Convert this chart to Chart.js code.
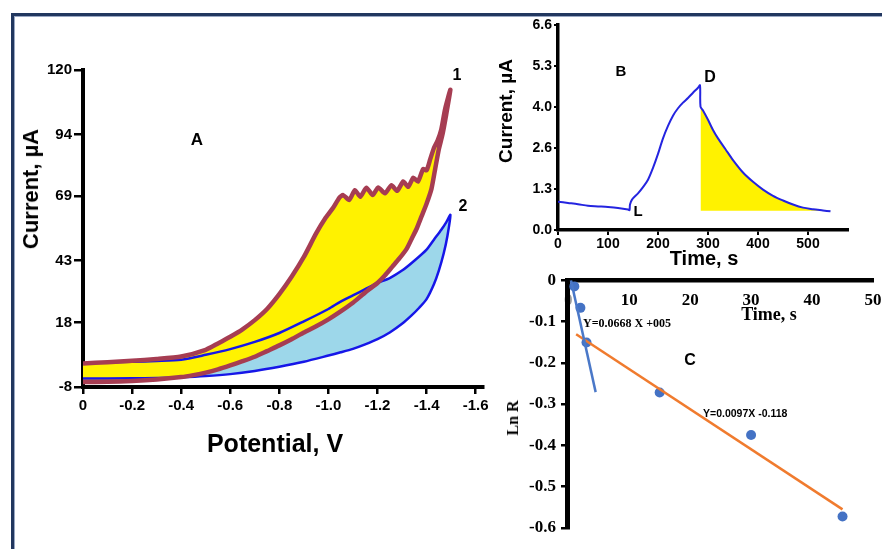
<!DOCTYPE html>
<html><head><meta charset="utf-8">
<script src="https://cdn.jsdelivr.net/npm/chart.js@4.4.0/dist/chart.umd.min.js"></script>
<style>
html,body{margin:0;padding:0;background:#fff;}
body{width:882px;height:549px;position:relative;overflow:hidden;font-family:'Liberation Sans',Arial,sans-serif;}
canvas{position:absolute;}
.lbl{position:absolute;white-space:nowrap;transform:translate(-50%,-50%);font-weight:bold;color:#000;line-height:1;}
.rot{transform:translate(-50%,-50%) rotate(-90deg);}
.left{transform:translate(0,-50%);}
.serif{font-family:'Liberation Serif','Times New Roman',serif;}
.fr{position:absolute;background:#22375f;}
.frl{position:absolute;background:#9aa8c4;}
</style></head><body>
<div class="fr" style="left:11px;top:13px;width:871px;height:3px;"></div>
<div class="frl" style="left:14px;top:16px;width:868px;height:1px;"></div>
<div class="fr" style="left:11px;top:13px;width:3px;height:536px;"></div>
<div class="frl" style="left:14px;top:16px;width:1px;height:533px;"></div>

<canvas id="cA" width="500" height="430" style="left:0;top:0;"></canvas>
<canvas id="cB" width="380" height="262" style="left:490px;top:0;"></canvas>
<canvas id="cC" width="430" height="284" style="left:490px;top:265px;"></canvas>

<div class="lbl rot" style="left:31px;top:189px;font-size:22px;">Current, µA</div>
<div class="lbl" style="left:275px;top:443px;font-size:25px;">Potential, V</div>
<div class="lbl" style="left:197px;top:139px;font-size:17px;">A</div>
<div class="lbl" style="left:457px;top:75px;font-size:16px;">1</div>
<div class="lbl" style="left:463px;top:206px;font-size:16px;">2</div>

<div class="lbl rot" style="left:505px;top:111px;font-size:19px;">Current, µA</div>
<div class="lbl" style="left:704px;top:258px;font-size:20px;">Time, s</div>
<div class="lbl" style="left:621px;top:70px;font-size:15px;">B</div>
<div class="lbl" style="left:710px;top:77px;font-size:16px;">D</div>
<div class="lbl" style="left:638px;top:210px;font-size:15px;">L</div>

<div class="lbl rot serif" style="left:513px;top:418px;font-size:16px;">Ln R</div>
<div class="lbl serif" style="left:769px;top:314px;font-size:18px;">Time, s</div>
<div class="lbl" style="left:690px;top:360px;font-size:16px;">C</div>
<div class="lbl left serif" style="left:583px;top:323px;font-size:12px;">Y=0.0668 X +005</div>
<div class="lbl left" style="left:703px;top:413px;font-size:10.5px;">Y=0.0097X -0.118</div>

<script>
// ---------- Panel A: cyclic voltammograms ----------
const cv1Potential = [0,-0.1,-0.2,-0.3,-0.4,-0.5,-0.55,-0.6,-0.65,-0.7,-0.75,-0.8,-0.85,-0.9,-0.95,-0.99,-1.02,-1.045,-1.06,-1.085,-1.108,-1.13,-1.155,-1.18,-1.203,-1.23,-1.257,-1.28,-1.305,-1.325,-1.346,-1.365,-1.386,-1.40,-1.415,-1.43,-1.445,-1.46,-1.475,-1.488,-1.497,
  -1.48,-1.465,-1.45,-1.435,-1.42,-1.40,-1.38,-1.36,-1.34,-1.32,-1.29,-1.26,-1.23,-1.20,-1.16,-1.13,-1.10,-1.05,-1.00,-0.95,-0.90,-0.85,-0.80,-0.75,-0.70,-0.65,-0.60,-0.55,-0.50,-0.45,-0.40,-0.30,-0.20,-0.10,0];
const cv1Current = [1.5,2.0,2.6,3.3,4.3,7.0,9.6,12.3,15.3,19.0,23.5,29.5,36.5,44.5,54.0,60.5,64.5,68.5,69.5,67.5,71.5,68.8,72.5,69.5,72.6,70.2,73.5,71.2,75.0,72.8,76.5,75.0,80.0,79.5,84,88.5,91.5,96,104,109,112,
  102,94,88,80,72,66,61,56,52,48,44,40.5,37,34,31,28.5,26,22.5,19.3,16.5,14.0,11.3,8.8,6.5,4.2,2.4,0.7,-0.9,-2.2,-3.2,-4.0,-5.0,-5.6,-5.9,-6.0];
const cv2Potential = [0,-0.1,-0.2,-0.3,-0.4,-0.5,-0.6,-0.7,-0.8,-0.9,-1.0,-1.05,-1.1,-1.15,-1.2,-1.25,-1.3,-1.35,-1.4,-1.43,-1.46,-1.48,-1.497,
  -1.485,-1.47,-1.45,-1.43,-1.40,-1.37,-1.34,-1.30,-1.25,-1.20,-1.15,-1.10,-1.05,-1.00,-0.90,-0.80,-0.70,-0.60,-0.50,-0.40,-0.30,-0.20,0];
const cv2Current = [1.6,1.9,2.2,2.5,3.0,5.0,7.3,10.2,13.8,18.5,23.5,26.5,29.0,31.5,34,36,39,43,47.5,51.5,55.5,58.5,61.5,
  53,46,39,33.5,27.5,24,21,17.5,14,11.3,9.2,7.4,6.0,4.7,2.2,0.2,-1.5,-2.8,-3.6,-4.1,-4.4,-4.5,-4.6];
const aYTicks = [-8, 18, 43, 69, 94, 120];
const aXTicks = [0, -0.2, -0.4, -0.6, -0.8, -1.0, -1.2, -1.4, -1.6];

// ---------- Panel B: current-time transient ----------
const bTime = [0,20,40,60,80,100,120,140,143,144,148,160,170,180,190,200,210,220,230,240,250,260,270,280,284,285,290,300,310,320,335,350,370,390,410,430,450,470,490,510,530,545];
const bCurrent = [0.91,0.87,0.83,0.78,0.76,0.74,0.71,0.66,0.64,0.82,0.98,1.18,1.38,1.62,2.0,2.45,2.95,3.35,3.68,3.92,4.1,4.25,4.42,4.58,4.66,3.97,3.85,3.55,3.22,2.95,2.6,2.25,1.85,1.55,1.3,1.1,0.95,0.82,0.72,0.67,0.63,0.6];
const bDecayStart = 285;
const bBaseline = 0.62;
const bYTicks = [0, 1.32, 2.64, 3.96, 5.28, 6.6];
const bXTicks = [0, 100, 200, 300, 400, 500];

// ---------- Panel C: Ln R vs time ----------
const cTime = [1, 2, 3, 15, 30, 45];
const cLnR = [-0.015, -0.067, -0.151, -0.272, -0.375, -0.572];
const cFit1Time = [0.45, 4.5];
const cFit1LnR = [0, -0.271];
const cFit2Time = [1.3, 45];
const cFit2LnR = [-0.131, -0.555];
const cYTicks = [0, -0.1, -0.2, -0.3, -0.4, -0.5, -0.6];
const cXTicks = [0, 10, 20, 30, 40, 50];

const pts = (xs, ys) => xs.map((x, i) => ({x: x, y: ys[i]}));
const SANS = "'Liberation Sans', Arial, sans-serif";
const SERIF = "'Liberation Serif', 'Times New Roman', serif";
const baseOpts = {
  responsive: false, animation: false, devicePixelRatio: 1,
  plugins: {legend: {display: false}, tooltip: {enabled: false}, filler: {drawTime: 'beforeDatasetsDraw'}},
  elements: {point: {radius: 0}}
};

// Panel A
new Chart(document.getElementById('cA'), {
  type: 'line',
  data: {datasets: [
    {data: pts(cv1Potential, cv1Current), borderColor: '#a63d52', borderWidth: 4.5, backgroundColor: '#fff200', fill: 'shape', tension: 0.2, pointRadius: 0},
    {data: pts(cv2Potential, cv2Current), borderColor: '#1616e8', borderWidth: 2.5, backgroundColor: '#9dd7ea', fill: 'shape', tension: 0.25, pointRadius: 0}
  ]},
  options: Object.assign({}, baseOpts, {
    layout: {padding: {top: 70, left: 0, right: 17, bottom: 0}},
    scales: {
      x: {type: 'linear', reverse: true, min: -1.63, max: 0,
        afterBuildTicks: s => { s.ticks = aXTicks.map(v => ({value: v})); },
        afterFit: s => { s.height = 43; },
        grid: {display: true, drawOnChartArea: false, drawTicks: true, tickLength: 7, color: '#000', lineWidth: 2.5},
        border: {display: true, color: '#000', width: 4},
        ticks: {color: '#000', padding: 3, maxRotation: 0, autoSkip: false, font: {family: SANS, size: 15, weight: 'bold'},
          callback: v => v === 0 ? '0' : v.toFixed(1)}
      },
      y: {type: 'linear', min: -8, max: 120,
        afterBuildTicks: s => { s.ticks = aYTicks.map(v => ({value: v})); },
        afterFit: s => { s.width = 83; },
        grid: {display: true, drawOnChartArea: false, drawTicks: true, tickLength: 9, color: '#000', lineWidth: 2.5},
        border: {display: true, color: '#000', width: 4},
        ticks: {color: '#000', padding: 2, autoSkip: false, font: {family: SANS, size: 15, weight: 'bold'},
          callback: v => String(v)}
      }
    }
  })
});

// Panel B
new Chart(document.getElementById('cB'), {
  type: 'line',
  data: {datasets: [
    {data: pts(bTime, bCurrent), borderColor: '#2424e0', borderWidth: 2, fill: false, tension: 0.3, pointRadius: 0},
    {data: pts(bTime, bCurrent).filter(p => p.x >= bDecayStart), borderWidth: 0, borderColor: 'rgba(0,0,0,0)', backgroundColor: '#fff200', fill: {value: bBaseline}, tension: 0.3, pointRadius: 0}
  ]},
  options: Object.assign({}, baseOpts, {
    layout: {padding: {top: 25, left: 0, right: 22, bottom: 0}},
    scales: {
      x: {type: 'linear', min: 0, max: 580,
        afterBuildTicks: s => { s.ticks = bXTicks.map(v => ({value: v})); },
        afterFit: s => { s.height = 32; },
        grid: {display: true, drawOnChartArea: false, drawTicks: true, tickLength: 5, color: '#000', lineWidth: 2},
        border: {display: true, color: '#000', width: 3.5},
        ticks: {color: '#000', padding: 1, maxRotation: 0, autoSkip: false, font: {family: SANS, size: 14, weight: 'bold'},
          callback: v => String(v)}
      },
      y: {type: 'linear', min: 0, max: 6.6,
        afterBuildTicks: s => { s.ticks = bYTicks.map(v => ({value: v})); },
        afterFit: s => { s.width = 68; },
        grid: {display: true, drawOnChartArea: false, drawTicks: true, tickLength: 4, color: '#000', lineWidth: 2},
        border: {display: true, color: '#000', width: 3.5},
        ticks: {color: '#000', padding: 2, autoSkip: false, font: {family: SANS, size: 14, weight: 'bold'},
          callback: v => v.toFixed(1)}
      }
    }
  })
});

// Panel C
new Chart(document.getElementById('cC'), {
  type: 'line',
  data: {datasets: [
    {data: pts(cFit1Time, cFit1LnR), borderColor: '#4a78c8', borderWidth: 2.5, fill: false, pointRadius: 0},
    {data: pts(cFit2Time, cFit2LnR), borderColor: '#f07b2e', borderWidth: 2.5, fill: false, pointRadius: 0},
    {data: pts(cTime, cLnR), showLine: false, pointRadius: 5, pointBackgroundColor: '#4472c4', pointBorderColor: '#4472c4', pointBorderWidth: 0}
  ]},
  options: Object.assign({}, baseOpts, {
    layout: {padding: {top: 15, left: 0, right: 47, bottom: 21}},
    scales: {
      x: {type: 'linear', min: -0.2, max: 50, position: {y: 0},
        afterBuildTicks: s => { s.ticks = cXTicks.map(v => ({value: v})); },
        afterFit: s => { s.height = 0; },
        grid: {display: true, drawOnChartArea: false, drawTicks: false},
        border: {display: true, color: '#000', width: 4.5},
        ticks: {padding: 10, maxRotation: 0, autoSkip: false, font: {family: SERIF, size: 17, weight: 'bold'},
          color: c => (c.tick && c.tick.value === 0) ? '#9a9a9a' : '#000',
          callback: v => String(v)}
      },
      y: {type: 'linear', min: -0.6, max: 0,
        afterBuildTicks: s => { s.ticks = cYTicks.map(v => ({value: v})); },
        afterFit: s => { s.width = 77; },
        grid: {display: true, drawOnChartArea: false, drawTicks: true, tickLength: 6, color: '#000', lineWidth: 2.5},
        border: {display: true, color: '#000', width: 5},
        ticks: {color: '#000', padding: 5, autoSkip: false, font: {family: SERIF, size: 17, weight: 'bold'},
          callback: v => v === 0 ? '0' : v.toFixed(1)}
      }
    }
  })
});
</script>
</body></html>
